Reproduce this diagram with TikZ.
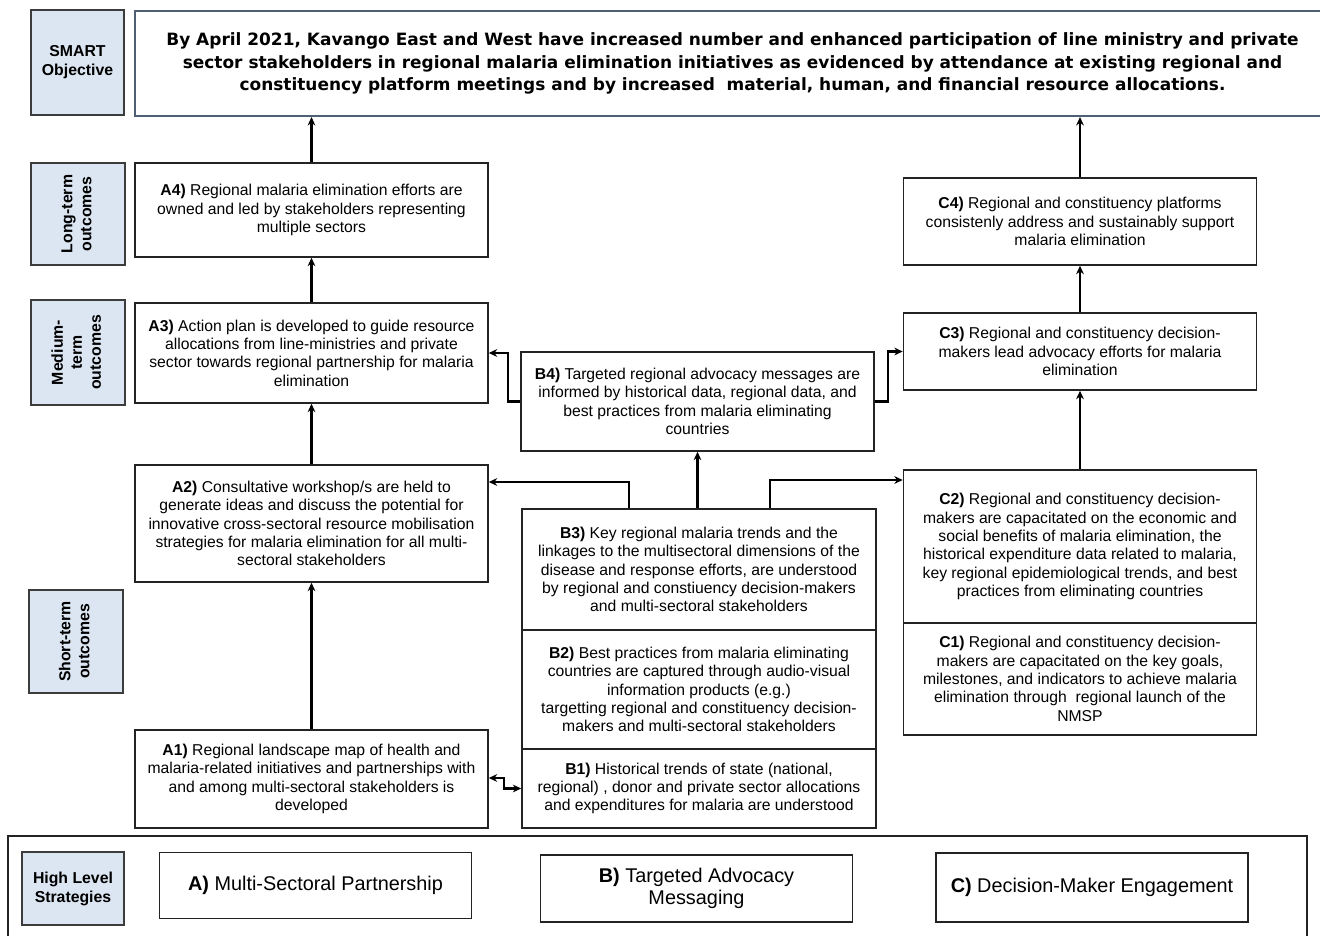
\documentclass[tikz,border=0pt]{standalone}
\usepackage{fontspec}
\setmainfont{Liberation Sans}
\newfontfamily\objfont{DejaVu Sans}
\usetikzlibrary{arrows.meta}

\definecolor{lblfill}{RGB}{220,230,242}
\definecolor{lbldraw}{RGB}{60,60,60}
\definecolor{objdraw}{RGB}{80,96,116}
\definecolor{boxdraw}{RGB}{35,35,35}

\tikzset{
  >={Stealth[length=4.8pt,width=4.4pt]},
  lbl/.style={draw=lbldraw,fill=lblfill,line width=1pt,inner sep=0pt,align=center,
    font=\bfseries\fontsize{9}{10.8}\selectfont},
  outbox/.style={draw=boxdraw,line width=0.9pt,inner sep=0pt,align=center,
    minimum width=7.06cm,font=\fontsize{8.95}{10.45}\selectfont},
  stratbox/.style={draw=boxdraw,line width=0.9pt,inner sep=0pt,align=center,
    minimum width=6.24cm,minimum height=1.32cm,font=\fontsize{11.3}{12.5}\selectfont},
  link/.style={line width=1.4pt,->},
}

\begin{document}
\begin{tikzpicture}[x=0.02cm,y=-0.02cm]
        \useasboundingbox (0,0) rectangle (1320,936);
        \clip (0,0) rectangle (1320,936);
        % row labels
        \node[lbl,minimum width=1.86cm,minimum height=2.1cm] (smartlbl) at (77.5,62.5) {SMART\\Objective};
        \node[lbl,minimum width=1.88cm,minimum height=2.04cm] (longlbl) at (78,214)
            {\rotatebox{90}{\begin{tabular}{@{}c@{}}Long-term\\outcomes\end{tabular}}};
        \node[lbl,minimum width=1.88cm,minimum height=2.1cm] (medlbl) at (78,352.5)
            {\rotatebox{90}{\begin{tabular}{@{}c@{}}Medium-\\term\\outcomes\end{tabular}}};
        \node[lbl,minimum width=1.88cm,minimum height=2.06cm] (shortlbl) at (76,641.5)
            {\rotatebox{90}{\begin{tabular}{@{}c@{}}Short-term\\outcomes\end{tabular}}};
        % objective
        \node[draw=objdraw,line width=1.2pt,inner sep=0pt,align=center,minimum width=23.9cm,
              minimum height=2.1cm,font=\objfont\bfseries\fontsize{9.65}{12.6}\selectfont] (obj) at (732.5,63.5)
            {By April 2021, Kavango East and West have increased number and enhanced participation of line ministry and private\\
             sector stakeholders in regional malaria elimination initiatives as evidenced by attendance at existing regional and\\
             constituency platform meetings and by increased\ \ material, human, and financial resource allocations.};
        % strategy A
        \node[outbox,minimum height=1.88cm] (a4) at (311.5,210)
            {\textbf{A4)} Regional malaria elimination efforts are\\owned and led by stakeholders representing\\multiple sectors};
        \node[outbox,minimum height=2.0cm] (a3) at (311.5,353)
            {\textbf{A3)} Action plan is developed to guide resource\\allocations from line-ministries and private\\sector towards regional partnership for malaria\\elimination};
        \node[outbox,minimum height=2.34cm] (a2) at (311.5,523.5)
            {\textbf{A2)} Consultative workshop/s are held to\\generate ideas and discuss the potential for\\innovative cross-sectoral resource mobilisation\\strategies for malaria elimination for all multi-\\sectoral stakeholders};
        \node[outbox,minimum height=1.96cm] (a1) at (311.5,779)
            {\textbf{A1)} Regional landscape map of health and\\malaria-related initiatives and partnerships with\\and among multi-sectoral stakeholders is\\developed};
        % strategy B
        \node[outbox,minimum height=1.98cm] (b4) at (697.5,401.5)
            {\textbf{B4)} Targeted regional advocacy messages are\\informed by historical data, regional data, and\\best practices from malaria eliminating\\countries};
        \node[outbox,minimum width=7.08cm,minimum height=2.42cm] (b3) at (699,569.5)
            {\textbf{B3)} Key regional malaria trends and the\\linkages to the multisectoral dimensions of the\\disease and response efforts, are understood\\by regional and constiuency decision-makers\\and multi-sectoral stakeholders};
        \node[outbox,minimum width=7.08cm,minimum height=2.38cm] (b2) at (699,689.5)
            {\textbf{B2)} Best practices from malaria eliminating\\countries are captured through audio-visual\\information products (e.g.)\\targetting regional and constituency decision-\\makers and multi-sectoral stakeholders};
        \node[outbox,minimum width=7.08cm,minimum height=1.58cm] (b1) at (699,788.5)
            {\textbf{B1)} Historical trends of state (national,\\regional) , donor and private sector allocations\\and expenditures for malaria are understood};
        % strategy C
        \node[outbox,minimum height=1.74cm] (c4) at (1080,221.5)
            {\textbf{C4)} Regional and constituency platforms\\consistenly address and sustainably support\\malaria elimination};
        \node[outbox,minimum height=1.54cm] (c3) at (1080,351.5)
            {\textbf{C3)} Regional and constituency decision-\\makers lead advocacy efforts for malaria\\elimination};
        \node[outbox,minimum height=3.06cm] (c2) at (1080,546.5)
            {\textbf{C2)} Regional and constituency decision-\\makers are capacitated on the economic and\\social benefits of malaria elimination, the\\historical expenditure data related to malaria,\\key regional epidemiological trends, and best\\practices from eliminating countries};
        \node[outbox,minimum height=2.24cm] (c1) at (1080,679)
            {\textbf{C1)} Regional and constituency decision-\\makers are capacitated on the key goals,\\milestones, and indicators to achieve malaria\\elimination through\ \ regional launch of the\\NMSP};
        % high level strategies
        \node[draw=boxdraw,line width=0.9pt,minimum width=25.98cm,minimum height=2.6cm,inner sep=0pt] (hlframe) at (657.5,901) {};
        \node[lbl,minimum width=2.04cm,minimum height=1.46cm] (hllbl) at (73,888.5) {High Level\\Strategies};
        \node[stratbox] (sa) at (315.5,885.5) {\textbf{A)} Multi-Sectoral Partnership};
        \node[stratbox,minimum height=1.34cm] (sb) at (696.5,888.5) {\textbf{B)} Targeted Advocacy\\Messaging};
        \node[stratbox,minimum height=1.38cm] (sc) at (1092,887.5) {\textbf{C)} Decision-Maker Engagement};
        % links
        \draw[link] (a1) -- (a2);
        \draw[link] (a2) -- (a3);
        \draw[link] (a3) -- (a4);
        \draw[link] (a4.north) -- (a4.north |- obj.south);
        \draw[link] (c2.north) -- (c2.north |- c3.south);
        \draw[link] (c3) -- (c4);
        \draw[link] (c4.north) -- (c4.north |- obj.south);
        \draw[link] (b3.north -| b4.south) -- (b4.south);
        \draw[link] ([xshift=-1.4cm]b3.north) |- ([yshift=0.83cm]a2.east);
        \draw[link] ([xshift=1.42cm]b3.north) |- ([yshift=1.33cm]c2.west);
        \draw[link] (b4.west) -- ++(-12,0) |- (a3.east);
        \draw[link] (b4.east) -- ++(13,0) |- (c3.west);
        \draw[link,<->] ([yshift=0.02cm]a1.east) -- ++(15,0) |- (b1.west);
\end{tikzpicture}
\end{document}
